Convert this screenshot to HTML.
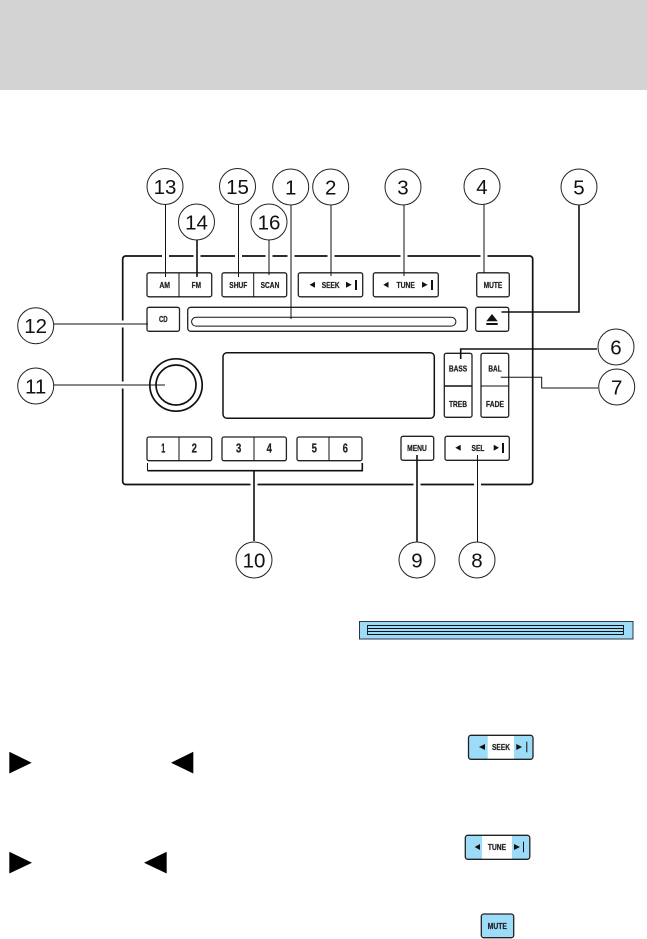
<!DOCTYPE html>
<html><head><meta charset="utf-8"><style>
html,body{margin:0;padding:0;background:#fff}
svg{display:block}
.n{font:20.5px "Liberation Sans",sans-serif;text-anchor:middle;fill:#111}
.b{font:bold 8.4px "Liberation Sans",sans-serif;text-anchor:middle;fill:#222;stroke:#222;stroke-width:.25}
.p{font:bold 13px "Liberation Sans",sans-serif;text-anchor:middle;fill:#222;stroke:#222;stroke-width:.25}
.o{fill:#fff;stroke:#222;stroke-width:1.3}
.c{fill:#fff;stroke:#222;stroke-width:1}
.l{fill:none;stroke:#111;stroke-width:1}
.t{fill:none;stroke:#111;stroke-width:1.6}
</style></head><body>
<svg width="647" height="939" viewBox="0 0 647 939" xmlns="http://www.w3.org/2000/svg">
<rect width="647" height="90" fill="#d3d3d3"/>
<!-- panel -->
<rect x="122.7" y="256" width="410" height="228.5" rx="3" fill="#fff" stroke="#111" stroke-width="1.7"/>
<!-- gaps in panel outline where leaders cross -->
<path d="M162 256h7M193.500 256h7M235 256h7M265.500 256h7M287.500 256h7M327.500 256h7M400.500 256h7M480.500 256h7M250.500 484.500h7M413.500 484.500h7M474 484.500h7" fill="none" stroke="#fff" stroke-width="3"/>
<path d="M122.700 320.500v7M122.700 381.500v7" fill="none" stroke="#fff" stroke-width="3"/>
<!-- buttons -->
<rect class="o" x="147" y="272.8" width="64.7" height="24" rx="2"/><path class="l" d="M179 273V297"/>
<rect class="o" x="222" y="272.8" width="64.7" height="24" rx="2"/><path class="l" d="M253.7 273V297"/>
<rect class="o" x="298.3" y="272.8" width="64.4" height="24" rx="2"/>
<rect class="o" x="373.3" y="272.8" width="65" height="24" rx="2"/>
<rect class="o" x="476.7" y="272.8" width="32.6" height="24" rx="2"/>
<rect class="o" x="147" y="307.3" width="32.5" height="24" rx="2"/>
<rect class="o" x="187.7" y="307.3" width="279.6" height="24" rx="3"/>
<path class="l" d="M196 317.3H451.5a4.4 4.4 0 0 1 0 8.8H196a4.4 4.4 0 0 1 0-8.8Z" stroke-width="1.2"/>
<rect class="o" x="475.7" y="307.3" width="33" height="24" rx="2"/>
<path d="M492 314L497.7 321.3H486.3Z" fill="#111"/><rect x="486.3" y="323" width="11.4" height="2" fill="#111"/>
<rect x="223" y="352.7" width="211.3" height="65.6" rx="4" fill="#fff" stroke="#111" stroke-width="1.5"/>
<rect class="o" x="444.3" y="353.3" width="27.7" height="64" rx="2"/><path class="t" d="M444.3 386H472"/>
<rect class="o" x="481" y="353.3" width="27.7" height="64" rx="2"/><path class="l" d="M481 386H508.7"/>
<circle cx="176" cy="385" r="26.2" fill="#fff" stroke="#111" stroke-width="1.7"/>
<circle cx="176" cy="385" r="20" fill="#fff" stroke="#111" stroke-width="1.7"/>
<rect class="o" x="147" y="437" width="64.7" height="23.7" rx="2"/><path class="l" d="M179 437V461"/>
<rect class="o" x="222" y="437" width="64.4" height="23.7" rx="2"/><path class="l" d="M254 437V461"/>
<rect class="o" x="297" y="437" width="65" height="23.7" rx="2"/><path class="l" d="M329 437V461"/>
<rect class="o" x="401" y="436.3" width="32.7" height="24" rx="2"/>
<rect class="o" x="445" y="436.3" width="64.3" height="24" rx="2"/>
<!-- button labels -->
<g>
<text class="b" x="164.7" y="287.8" textLength="10.7" lengthAdjust="spacingAndGlyphs">AM</text>
<text class="b" x="196.3" y="287.8" textLength="9.3" lengthAdjust="spacingAndGlyphs">FM</text>
<text class="b" x="238.3" y="287.8" textLength="18" lengthAdjust="spacingAndGlyphs">SHUF</text>
<text class="b" x="270" y="287.8" textLength="18.7" lengthAdjust="spacingAndGlyphs">SCAN</text>
<text class="b" x="330.7" y="287.8" textLength="18" lengthAdjust="spacingAndGlyphs">SEEK</text>
<text class="b" x="405.7" y="287.8" textLength="18.3" lengthAdjust="spacingAndGlyphs">TUNE</text>
<text class="b" x="493" y="287.8" textLength="18.7" lengthAdjust="spacingAndGlyphs">MUTE</text>
<text class="b" x="163.3" y="321.8" textLength="8.7" lengthAdjust="spacingAndGlyphs">CD</text>
<text class="b" x="458" y="371.5" textLength="18.3" lengthAdjust="spacingAndGlyphs">BASS</text>
<text class="b" x="458" y="407" textLength="18" lengthAdjust="spacingAndGlyphs">TREB</text>
<text class="b" x="495" y="371.5" textLength="13.3" lengthAdjust="spacingAndGlyphs">BAL</text>
<text class="b" x="495" y="407" textLength="18" lengthAdjust="spacingAndGlyphs">FADE</text>
<text class="b" x="417" y="450.8" textLength="19.7" lengthAdjust="spacingAndGlyphs">MENU</text>
<text class="b" x="478" y="450.8" textLength="13" lengthAdjust="spacingAndGlyphs">SEL</text>
<text class="p" x="163.3" y="452.6" textLength="4" lengthAdjust="spacingAndGlyphs">1</text>
<text class="p" x="194.3" y="452.6" textLength="5.3" lengthAdjust="spacingAndGlyphs">2</text>
<text class="p" x="238.7" y="452.6" textLength="5.3" lengthAdjust="spacingAndGlyphs">3</text>
<text class="p" x="269.3" y="452.6" textLength="5.3" lengthAdjust="spacingAndGlyphs">4</text>
<text class="p" x="314.3" y="452.6" textLength="5.3" lengthAdjust="spacingAndGlyphs">5</text>
<text class="p" x="345.3" y="452.6" textLength="5.3" lengthAdjust="spacingAndGlyphs">6</text>
</g>
<!-- arrow icons -->
<g fill="#111">
<path d="M309.5 284.7L315 281.7V287.7Z M346 281.7L351.7 284.7L346 287.7Z"/><rect x="355" y="280" width="2" height="10"/>
<path d="M383.3 284.7L388.5 281.7V287.7Z M422 281.7L427.6 284.7L422 287.7Z"/><rect x="431" y="280" width="2" height="10"/>
<path d="M455.3 447.7L460.7 444.7V450.7Z M493.7 444.7L499 447.7L493.7 450.7Z"/><rect x="502" y="443" width="2" height="10"/>
</g>
<!-- bracket -->
<path class="l" d="M147.5 463V470.7"/><path class="t" d="M147.5 470.7H362.3V463"/>
<!-- leaders -->
<path class="l" d="M165.500 204V277M238.500 204V277M269 240V275M291 205V319M331 205V276M404 205V276M484 204V273M477.500 455V542M53 324H148M54 385H165M500.700 377.300H541.700V388H598"/>
<path class="t" d="M197 240V277M254 470.700V541M417 455V541.500M579 205V312H501.500M597 349H460.700V359"/>
<!-- callouts -->
<g>
<circle class="c" cx="165" cy="186.5" r="18"/><text class="n" x="165" y="194">13</text>
<circle class="c" cx="196.5" cy="222" r="18"/><text class="n" x="196.5" y="229.5">14</text>
<circle class="c" cx="237.5" cy="186.5" r="18"/><text class="n" x="237.5" y="194">15</text>
<circle class="c" cx="269" cy="222" r="18"/><text class="n" x="269" y="229.5">16</text>
<circle class="c" cx="290.7" cy="187" r="18"/><text class="n" x="290.7" y="194.5">1</text>
<circle class="c" cx="330.7" cy="187" r="18"/><text class="n" x="330.7" y="194.5">2</text>
<circle class="c" cx="403" cy="187" r="18"/><text class="n" x="403" y="194.5">3</text>
<circle class="c" cx="482" cy="186.5" r="18"/><text class="n" x="482" y="194">4</text>
<circle class="c" cx="579" cy="187" r="18"/><text class="n" x="579" y="194.5">5</text>
<circle class="c" cx="616" cy="347" r="18"/><text class="n" x="616" y="354.5">6</text>
<circle class="c" cx="616.7" cy="387" r="18"/><text class="n" x="616.7" y="394.5">7</text>
<circle class="c" cx="35.7" cy="325.7" r="18"/><text class="n" x="35.7" y="333.2">12</text>
<circle class="c" cx="35.7" cy="386" r="18"/><text class="n" x="35.7" y="393.5">11</text>
<circle class="c" cx="254" cy="560" r="18"/><text class="n" x="254" y="567.5">10</text>
<circle class="c" cx="417" cy="560" r="18"/><text class="n" x="417" y="567.5">9</text>
<circle class="c" cx="477" cy="560" r="18"/><text class="n" x="477" y="567.5">8</text>
</g>
<!-- blue bar -->
<rect x="359.5" y="621.5" width="273.5" height="17.5" fill="#9cdcf9" stroke="#334" stroke-width="1"/>
<path d="M367.5 625.5H623.5V634.5H367.5ZM367.5 628.5H623.5M367.5 631.5H623.5" fill="none" stroke="#111" stroke-width="0.9"/>
<!-- body triangles -->
<g fill="#000">
<path d="M9.3 751.7L31.7 762.7L9.3 773.5Z"/><path d="M193.3 751.7L171 762.7L193.3 773.5Z"/>
<path d="M9.3 851.7L32 862.7L9.3 873.5Z"/><path d="M166.7 851.7L144 862.7L166.7 873.5Z"/>
</g>
<!-- small blue buttons -->
<rect x="468.5" y="735.3" width="64.5" height="24" rx="2.5" fill="#9cdcf9" stroke="#222" stroke-width="1.3"/>
<rect x="487.7" y="736" width="26.3" height="22.6" fill="#fff"/>
<text class="b" x="501" y="750" textLength="18" lengthAdjust="spacingAndGlyphs">SEEK</text>
<path d="M479 747L485 744V750Z M516.3 744L522 747L516.3 750Z" fill="#111"/><rect x="526.3" y="741.7" width="1" height="10.6" fill="#111"/>
<rect x="465.3" y="835.3" width="64.5" height="24" rx="2.5" fill="#9cdcf9" stroke="#222" stroke-width="1.3"/>
<rect x="482" y="836" width="30" height="22.6" fill="#fff"/>
<text class="b" x="497" y="850" textLength="18.3" lengthAdjust="spacingAndGlyphs">TUNE</text>
<path d="M474.7 847L480 844V850Z M514 844L520 847L514 850Z" fill="#111"/><rect x="523" y="841.7" width="1" height="10.6" fill="#111"/>
<rect x="481.3" y="914" width="32.4" height="23.7" rx="2.5" fill="#9cdcf9" stroke="#222" stroke-width="1.3"/>
<text class="b" x="497.3" y="929" textLength="19.3" lengthAdjust="spacingAndGlyphs">MUTE</text>
</svg>
</body></html>
